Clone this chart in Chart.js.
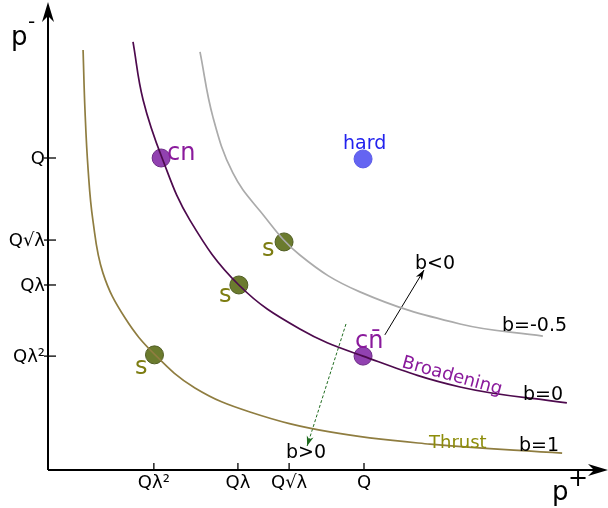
<!DOCTYPE html>
<html>
<head>
<meta charset="utf-8">
<script src="https://cdn.jsdelivr.net/npm/chart.js@4"></script>
<style>
  html, body { margin: 0; padding: 0; background: #fff; }
  #wrap { width: 608px; height: 508px; }
</style>
</head>
<body>
<div id="wrap"><canvas id="chart" width="608" height="508"></canvas></div>
<script>
// Values in units of Q on both axes
const thrustX = [0.111, 0.117, 0.127, 0.142, 0.174, 0.244, 0.339, 0.465, 0.639, 0.892, 1.209, 1.627];
const thrustY = [1.346, 1.154, 0.962, 0.801, 0.631, 0.487, 0.369, 0.263, 0.186, 0.122, 0.083, 0.054];

const broadX = [0.269, 0.301, 0.361, 0.449, 0.604, 0.797, 0.997, 1.304, 1.642];
const broadY = [1.372, 1.186, 1.000, 0.801, 0.593, 0.452, 0.365, 0.266, 0.215];

const negX = [0.481, 0.522, 0.585, 0.671, 0.797, 0.987, 1.304, 1.566];
const negY = [1.340, 1.131, 0.952, 0.830, 0.689, 0.571, 0.468, 0.429];

const xTickVals = [0.335, 0.601, 0.763, 1.0];
const xTickLabels = ['Q\u03bb\u00b2', 'Q\u03bb', 'Q\u221a\u03bb', 'Q'];
const yTickVals = [1.0, 0.737, 0.593, 0.365];
const yTickLabels = ['Q', 'Q\u221a\u03bb', 'Q\u03bb', 'Q\u03bb\u00b2'];

// special points
const cnPt = { x: 0.358, y: 1.0 };
const cnbarPt = { x: 0.997, y: 0.365 };
const hardPt = { x: 0.997, y: 0.997 };
const sPts = [{ x: 0.747, y: 0.731 }, { x: 0.604, y: 0.593 }, { x: 0.337, y: 0.369 }];

// direction arrows (from, to)
const arrowNeg = [{ x: 1.066, y: 0.433 }, { x: 1.190, y: 0.641 }];
const arrowPos = [{ x: 0.943, y: 0.468 }, { x: 0.820, y: 0.077 }];

function toPts(xs, ys) {
    return xs.map((x, i) => ({ x: x, y: ys[i] }));
}

const FONT = '"DejaVu Sans", sans-serif';

function arrowHead(ctx, x1, y1, x2, y2, len, wid) {
    const a = Math.atan2(y2 - y1, x2 - x1);
    ctx.beginPath();
    ctx.moveTo(x2, y2);
    ctx.lineTo(x2 - len * Math.cos(a) + wid * Math.sin(a), y2 - len * Math.sin(a) - wid * Math.cos(a));
    ctx.lineTo(x2 - len * Math.cos(a) * 0.7, y2 - len * Math.sin(a) * 0.7);
    ctx.lineTo(x2 - len * Math.cos(a) - wid * Math.sin(a), y2 - len * Math.sin(a) + wid * Math.cos(a));
    ctx.closePath();
    ctx.fill();
}

const decor = {
    id: 'decor',
    beforeDatasetsDraw(chart) {
        const ctx = chart.ctx;
        const xs = chart.scales.x, ys = chart.scales.y;
        const ox = xs.getPixelForValue(0), oy = ys.getPixelForValue(0);
        ctx.save();
        ctx.strokeStyle = '#000';
        ctx.fillStyle = '#000';
        ctx.lineWidth = 2;
        // axes
        ctx.beginPath();
        ctx.moveTo(ox, oy);
        ctx.lineTo(ox, 12);
        ctx.moveTo(ox, oy);
        ctx.lineTo(598, oy);
        ctx.stroke();
        arrowHead(ctx, ox, oy, ox, 2, 20, 6);
        arrowHead(ctx, ox, oy, 608, oy, 20, 6);

        // ticks
        ctx.lineWidth = 1.3;
        ctx.font = '18px ' + FONT;
        ctx.textAlign = 'center';
        ctx.textBaseline = 'top';
        xTickVals.forEach((v, i) => {
            const px = xs.getPixelForValue(v);
            ctx.beginPath();
            ctx.moveTo(px, oy - 7);
            ctx.lineTo(px, oy);
            ctx.stroke();
            ctx.fillText(xTickLabels[i], px, oy + 4);
        });
        ctx.textAlign = 'right';
        ctx.textBaseline = 'middle';
        yTickVals.forEach((v, i) => {
            const py = ys.getPixelForValue(v);
            ctx.beginPath();
            ctx.moveTo(ox - 4, py);
            ctx.lineTo(ox + 8, py);
            ctx.stroke();
            ctx.fillText(yTickLabels[i], ox - 3, py + 1);
        });

        // axis titles
        ctx.textAlign = 'left';
        ctx.textBaseline = 'alphabetic';
        ctx.font = '26px ' + FONT;
        ctx.fillText('p', 11, 45);
        ctx.fillText('p', 552, 500);
        ctx.font = '20px ' + FONT;
        ctx.fillText('-', 28, 28);
        ctx.font = '24px ' + FONT;
        ctx.fillText('+', 568, 486);

        // direction arrows
        let a = arrowNeg.map(p => [xs.getPixelForValue(p.x), ys.getPixelForValue(p.y)]);
        ctx.lineWidth = 1;
        ctx.beginPath();
        ctx.moveTo(a[0][0], a[0][1]);
        ctx.lineTo(a[1][0], a[1][1]);
        ctx.stroke();
        arrowHead(ctx, a[0][0], a[0][1], a[1][0], a[1][1], 10, 3.5);

        a = arrowPos.map(p => [xs.getPixelForValue(p.x), ys.getPixelForValue(p.y)]);
        ctx.strokeStyle = '#1f6b1f';
        ctx.fillStyle = '#1f6b1f';
        ctx.setLineDash([3, 2]);
        ctx.beginPath();
        ctx.moveTo(a[0][0], a[0][1]);
        ctx.lineTo(a[1][0], a[1][1]);
        ctx.stroke();
        ctx.setLineDash([]);
        arrowHead(ctx, a[0][0], a[0][1], a[1][0], a[1][1], 10, 3.5);
        ctx.restore();
    },
    afterDatasetsDraw(chart) {
        const ctx = chart.ctx;
        ctx.save();
        ctx.textBaseline = 'alphabetic';
        ctx.textAlign = 'left';

        ctx.fillStyle = '#000';
        ctx.font = '19px ' + FONT;
        ctx.fillText('b=-0.5', 502, 331);
        ctx.fillText('b=0', 523, 400);
        ctx.fillText('b=1', 519, 451);
        ctx.fillText('b<0', 415, 269);
        ctx.fillText('b>0', 286, 458);

        ctx.fillStyle = '#8a1a9c';
        ctx.font = '24px ' + FONT;
        ctx.fillText('cn', 167, 160);
        ctx.fillText('cn\u0304', 355, 348);

        ctx.fillStyle = '#7d7d12';
        ctx.fillText('s', 262, 256);
        ctx.fillText('s', 219, 302);
        ctx.fillText('s', 135, 374);

        ctx.fillStyle = '#2222ee';
        ctx.font = '19px ' + FONT;
        ctx.fillText('hard', 343, 149);

        ctx.fillStyle = '#8d8d0a';
        ctx.font = '18px ' + FONT;
        ctx.fillText('Thrust', 429, 448);

        ctx.fillStyle = '#8a1a9c';
        ctx.translate(401, 367);
        ctx.rotate(15.5 * Math.PI / 180);
        ctx.fillText('Broadening', 0, 0);
        ctx.restore();
    }
};

const ptStyle = (pts, fill, border) => ({
    data: pts,
    showLine: false,
    pointRadius: 9,
    pointHoverRadius: 9,
    pointBackgroundColor: fill,
    pointBorderColor: border,
    pointBorderWidth: 1
});

const lineStyle = (pts, color) => ({
    data: pts,
    showLine: true,
    borderColor: color,
    borderWidth: 1.7,
    pointRadius: 0,
    tension: 0.4,
    fill: false
});

new Chart(document.getElementById('chart'), {
    type: 'scatter',
    data: {
        datasets: [
            lineStyle(toPts(negX, negY), '#ababab'),
            lineStyle(toPts(broadX, broadY), '#4d0a4d'),
            lineStyle(toPts(thrustX, thrustY), '#8f7d40'),
            ptStyle(sPts, '#6b7b2e', '#4f5c22'),
            ptStyle([cnPt, cnbarPt], '#9141b0', '#6c2a85'),
            ptStyle([hardPt], '#6464f2', '#5a5ae6')
        ]
    },
    options: {
        responsive: false,
        animation: false,
        layout: { padding: 0, autoPadding: false },
        plugins: {
            legend: { display: false },
            tooltip: { enabled: false }
        },
        scales: {
            x: { type: 'linear', display: false, min: -48 / 316, max: 560 / 316 },
            y: { type: 'linear', display: false, min: -38 / 312, max: 470 / 312 }
        }
    },
    plugins: [decor]
});
</script>
</body>
</html>
